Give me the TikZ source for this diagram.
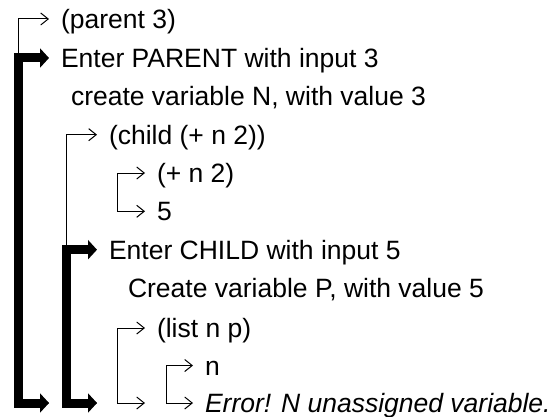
\documentclass[tikz,border=0pt]{standalone}
\usepackage{fontspec}
\setmainfont{Liberation Sans}
\usetikzlibrary{arrows.meta}
\begin{document}
\begin{tikzpicture}[x=1pt,y=-1pt,font=\fontsize{26.5}{31}\selectfont,
    txt/.style={anchor=west,inner sep=0pt,outer xsep=12pt,text height=19pt,text depth=0pt},
    thinarr/.style={line width=1pt,line join=miter,{Straight Barb[length=7.5pt,width=12pt]}-{Straight Barb[length=7.5pt,width=12pt]}},
    thickarr/.style={line width=9pt,line join=miter,{Triangle[length=9pt,width=19pt]}-{Triangle[length=9pt,width=19pt]}}]
    \useasboundingbox (0,0) rectangle (551,417);
    % bracket spines
    \coordinate (s0) at (18,0);
    \coordinate (s1) at (66,0);
    \coordinate (s2) at (117,0);
    \coordinate (s3) at (166,0);
    % the lines
    \node[txt] (par)  at (49,19)    {(parent 3)};
    \node[txt] (enP)  at (49,58)    {Enter PARENT with input 3};
    \node[txt] (crN)  at (59,96.3)  {create variable N, with value 3};
    \node[txt] (chi)  at (97,134.7) {(child (+ n 2))};
    \node[txt] (pl)   at (145,173)  {(+ n 2)};
    \node[txt] (five) at (145,211.3){5};
    \node[txt] (enC)  at (97,249.7) {Enter CHILD with input 5};
    \node[txt] (crP)  at (116,288)  {Create variable P, with value 5};
    \node[txt] (li)   at (145,328)  {(list n p)};
    \node[txt] (nn)   at (193,365.5){n};
    \node[txt] (err)  at (193,403)  {\itshape Error! N unassigned variable.};
    % free ends at the bottom
    \coordinate (e0) at (49,403);
    \coordinate (e1) at (97,403);
    \coordinate (e2) at (145,403);
    % thin brackets
    \draw[thinarr] (par.west) -- (par.west -| s0) -- (s0 |- e0) -- (e0);
    \draw[thinarr] (chi.west) -- (chi.west -| s1) -- (s1 |- e1) -- (e1);
    \draw[thinarr] (pl.west) -- (pl.west -| s2) -- (s2 |- five.west) -- (five.west);
    \draw[thinarr] (li.west) -- (li.west -| s2) -- (s2 |- e2) -- (e2);
    \draw[thinarr] (nn.west) -- (nn.west -| s3) -- (s3 |- err.west) -- (err.west);
    % thick brackets
    \draw[thickarr] (enP.west) -- (enP.west -| s0) -- (s0 |- e0) -- (e0);
    \draw[thickarr] (enC.west) -- (enC.west -| s1) -- (s1 |- e1) -- (e1);
\end{tikzpicture}
\end{document}
